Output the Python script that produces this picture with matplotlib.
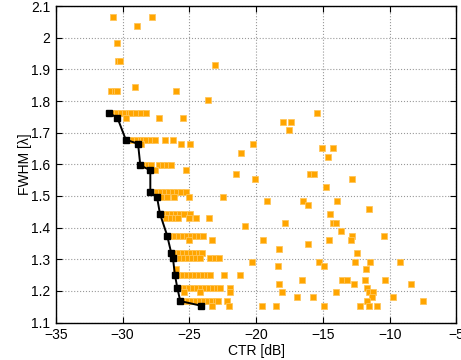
import matplotlib
matplotlib.use("Agg")
import matplotlib.pyplot as plt

plt.rcParams['font.family'] = ['Liberation Sans', 'DejaVu Sans']

# all designs, one row of FWHM level per line
ctr = [
    -30.71, -27.8,
    -28.89,
    -30.44,
    -30.35, -30.2,
    -23.06,
    -29.09,
    -30.85, -30.6, -30.4, -26.0,
    -23.63,
    -30.7, -30.4, -30.1, -29.8, -29.5, -29.34, -28.96, -28.6, -28.22, -15.43,
    -29.71, -27.27, -25.48,
    -17.95, -17.37,
    -17.57,
    -29.5, -29.2, -28.9, -28.6, -28.46, -28.22, -27.9, -27.6, -26.85, -26.23,
    -28.59, -25.6, -24.93, -20.21,
    -15.03, -14.23,
    -21.14,
    -14.63,
    -28.4, -28.1, -27.85, -27.27, -26.97, -26.65, -26.35,
    -27.6, -25.23,
    -21.49, -16.0, -15.63,
    -20.09, -12.79,
    -14.78,
    -27.72, -27.4, -27.1, -26.8, -26.5, -26.2, -25.9, -25.6, -25.28,
    -27.1, -26.7, -26.17, -25.05, -22.49,
    -19.22, -16.48, -13.93,
    -16.08,
    -11.51,
    -26.9, -26.6, -26.3, -26.0, -25.73, -25.4, -24.98, -14.45,
    -26.73, -26.4, -26.1, -25.85, -25.03, -24.48, -23.56,
    -17.85, -14.26, -14.01,
    -20.84,
    -13.61,
    -26.4, -26.1, -25.8, -25.5, -25.2, -24.9, -24.6, -24.3, -23.99, -12.79, -10.42,
    -25.03, -23.28, -19.5, -14.51, -12.89,
    -16.1,
    -18.3,
    -26.1, -25.8, -25.5, -25.2, -24.9, -24.6, -24.3, -24.06, -12.44,
    -26.0, -25.7, -25.4, -25.1, -24.8, -24.5, -24.2, -23.43, -23.1, -22.81,
    -20.32, -15.3, -12.59, -11.47, -9.2,
    -18.34, -14.95,
    -25.98, -11.8,
    -25.8, -25.5, -25.2, -24.9, -24.6, -24.3, -24.0, -23.7, -23.43, -22.43, -21.19,
    -16.55, -13.56, -13.16, -11.87, -10.37,
    -18.3, -12.69, -8.43,
    -25.6, -25.3, -25.0, -24.7, -24.4, -24.1, -23.8, -23.5, -23.2, -22.9, -22.73, -21.99, -11.69,
    -25.4, -24.23, -21.99, -18.07, -13.98, -11.51, -11.27,
    -16.9, -15.73, -11.31, -9.74,
    -25.4, -25.1, -24.8, -24.5, -24.2, -23.9, -23.6, -23.3, -23.0, -22.86, -22.19, -11.69, -7.5,
    -23.28, -22.06, -19.57, -18.49, -14.95, -12.24, -11.51, -10.94,
]
fwhm = (
    [2.066] * 2 + [2.038] + [1.982] + [1.927] * 2 + [1.914] + [1.845]
    + [1.831] * 4 + [1.803] + [1.761] * 10 + [1.748] * 3 + [1.734] * 2
    + [1.707] + [1.678] * 10 + [1.665] * 4 + [1.652] * 2 + [1.637]
    + [1.623] + [1.597] * 7 + [1.581] * 2 + [1.568] * 3 + [1.555] * 2
    + [1.527] + [1.512] * 9 + [1.497] * 5 + [1.485] * 3 + [1.471]
    + [1.458] + [1.444] * 8 + [1.43] * 7 + [1.416] * 3 + [1.404]
    + [1.389] + [1.375] * 11 + [1.362] * 5 + [1.347] + [1.333]
    + [1.319] * 9 + [1.305] * 10 + [1.292] * 5 + [1.278] * 2
    + [1.268] * 2 + [1.251] * 11 + [1.236] * 5 + [1.222] * 3
    + [1.21] * 13 + [1.195] * 7 + [1.181] * 4 + [1.168] * 13 + [1.153] * 8
)

# pareto front
ctr_front = [-31.0, -30.39, -29.76, -28.84, -28.67, -27.92, -27.92, -27.42,
             -27.2, -26.66, -26.35, -26.23, -26.08, -25.9, -25.68, -24.1]
fwhm_front = [1.761, 1.748, 1.678, 1.665, 1.597, 1.581, 1.512, 1.497,
              1.444, 1.375, 1.319, 1.305, 1.251, 1.21, 1.168, 1.153]

xticks = [-35, -30, -25, -20, -15, -10, -5]
yticks = [1.1, 1.2, 1.3, 1.4, 1.5, 1.6, 1.7, 1.8, 1.9, 2.0, 2.1]
ytick_labels = ["1.1", "1.2", "1.3", "1.4", "1.5", "1.6", "1.7", "1.8", "1.9", "2", "2.1"]

fig = plt.figure(figsize=(4.61, 3.6), dpi=100)
ax = fig.add_axes([0.121, 0.104, 0.869, 0.879])

ax.plot(ctr, fwhm, linestyle='none', marker='s', markersize=5.0,
        markerfacecolor='#FFA500', markeredgecolor='#FFC65A', markeredgewidth=0.6)
ax.plot(ctr_front, fwhm_front, color='black', linewidth=1.4, marker='s',
        markersize=4.8, markerfacecolor='black', markeredgecolor='black')

ax.set_xlim(-35, -5)
ax.set_ylim(1.1, 2.1)
ax.set_xticks(xticks)
ax.set_yticks(yticks)
ax.set_yticklabels(ytick_labels)
ax.tick_params(direction='in', length=4, width=0.8, top=True, right=True,
               labelsize=10, pad=4)
ax.grid(True, linestyle=':', color='#999999', linewidth=0.8)
for s in ax.spines.values():
    s.set_linewidth(1.0)

ax.set_xlabel("CTR [dB]", fontsize=10, labelpad=1)
ax.set_ylabel("FWHM [λ]", fontsize=10, labelpad=-1)

fig.savefig("out.png", dpi=100)
